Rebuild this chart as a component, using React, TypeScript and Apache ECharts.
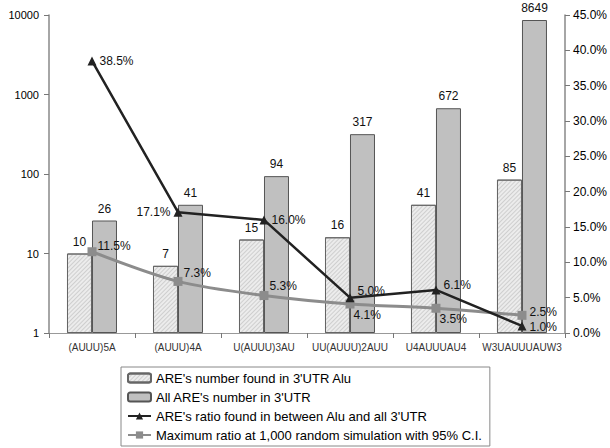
import React, { useEffect, useRef } from "react";
import * as echarts from "echarts";

const categories = ["(AUUU)5A", "(AUUU)4A", "U(AUUU)3AU", "UU(AUUU)2AUU", "U4AUUUAU4", "W3UAUUUAUW3"];
const aluCounts = [10, 7, 15, 16, 41, 85];
const allCounts = [26, 41, 94, 317, 672, 8649];
const ratio = [38.5, 17.1, 16.0, 5.0, 6.1, 1.0];
const simRatio = [11.5, 7.3, 5.3, 4.1, 3.5, 2.5];
const seriesNames = [
  "ARE's number found in 3'UTR Alu",
  "All ARE's number in 3'UTR",
  "ARE's ratio found in between Alu and all 3'UTR",
  "Maximum ratio at 1,000 random simulation with 95% C.I.",
];

const ratioLabelPos: [string, number[]][] = [
  ["right", [0, 0]],
  ["left", [0, 0]],
  ["right", [0, 0]],
  ["right", [0, -7]],
  ["right", [0, -5]],
  ["right", [0, 1]],
];
const simLabelPos: [string, number[]][] = [
  ["right", [-2, -6]],
  ["right", [-2, -8]],
  ["right", [-2, -10]],
  ["right", [-4, 11]],
  ["right", [-4, 11]],
  ["right", [0, -3]],
];

const FONT = "Liberation Sans, Arial, sans-serif";

export default function App() {
  const ref = useRef<HTMLDivElement>(null);
  useEffect(() => {
    const chart = echarts.init(ref.current!, null, { renderer: "svg" });
    const lbl = { fontFamily: FONT, fontSize: 12, color: "#111" };
    chart.setOption({
      animation: false,
      backgroundColor: "#fff",
      textStyle: { fontFamily: FONT },
      grid: { left: 49, right: 45, top: 15, bottom: 115 },
      legend: {
        orient: "vertical",
        left: 121,
        top: 367,
        padding: [4, 8, 4, 6],
        itemGap: 5,
        itemWidth: 23,
        itemHeight: 9,
        borderColor: "#888",
        borderWidth: 1,
        textStyle: { fontFamily: FONT, fontSize: 13, color: "#000", lineHeight: 14 },
        data: seriesNames,
      },
      xAxis: {
        type: "category",
        data: categories,
        axisLine: { lineStyle: { color: "#999", width: 1 } },
        axisTick: { show: true, inside: false, length: 5, lineStyle: { color: "#777" } },
        axisLabel: { fontFamily: FONT, fontSize: 10, color: "#333", margin: 9, interval: 0 },
      },
      yAxis: [
        {
          type: "log",
          logBase: 10,
          min: 1,
          max: 10000,
          axisLine: { show: true, lineStyle: { color: "#888", width: 1.5 } },
          axisTick: { show: true, inside: false, length: 5, lineStyle: { color: "#777" } },
          axisLabel: {
            fontFamily: FONT,
            fontSize: 11,
            color: "#000",
            margin: 10,
            formatter: (v: number) => String(Math.round(v)),
          },
          splitLine: { show: false },
          minorTick: { show: false },
        },
        {
          type: "value",
          min: 0,
          max: 45,
          interval: 5,
          position: "right",
          axisLine: { show: true, lineStyle: { color: "#888", width: 1.5 } },
          axisTick: { show: true, inside: false, length: 5, lineStyle: { color: "#777" } },
          axisLabel: {
            fontFamily: FONT,
            fontSize: 12,
            color: "#000",
            margin: 8,
            formatter: (v: number) => v.toFixed(1) + "%",
          },
          splitLine: { show: false },
        },
      ],
      series: [
        {
          name: seriesNames[0],
          type: "bar",
          yAxisIndex: 0,
          data: aluCounts,
          barWidth: 25,
          barGap: "0%",
          itemStyle: {
            color: "#ececec",
            borderColor: "#666",
            borderWidth: 1,
            decal: {
              symbol: "rect",
              symbolSize: 1,
              dashArrayX: [1, 0],
              dashArrayY: [1, 1.5],
              rotation: -Math.PI / 4,
              color: "rgba(150,150,150,0.35)",
            },
          },
          label: { show: true, position: "top", ...lbl, fontSize: 12, distance: 6 },
        },
        {
          name: seriesNames[1],
          type: "bar",
          yAxisIndex: 0,
          data: allCounts,
          barWidth: 25,
          barGap: "0%",
          itemStyle: { color: "#c0c0c0", borderColor: "#555", borderWidth: 1 },
          label: { show: true, position: "top", ...lbl, fontSize: 12, distance: 6 },
        },
        {
          name: seriesNames[2],
          type: "line",
          yAxisIndex: 1,
          z: 5,
          symbol: "triangle",
          symbolSize: 9,
          lineStyle: { color: "#222", width: 2.5 },
          itemStyle: { color: "#222" },
          data: ratio.map((v, i) => ({
            value: v,
            label: {
              show: true,
              position: ratioLabelPos[i][0],
              offset: ratioLabelPos[i][1],
              formatter: (p: any) => Number(p.value).toFixed(1) + "%",
              ...lbl,
              distance: 3,
            },
          })),
        },
        {
          name: seriesNames[3],
          type: "line",
          yAxisIndex: 1,
          z: 4,
          smooth: 0.3,
          symbol: "rect",
          symbolSize: 9,
          lineStyle: { color: "#8c8c8c", width: 3 },
          itemStyle: { color: "#8c8c8c" },
          data: simRatio.map((v, i) => ({
            value: v,
            label: {
              show: true,
              position: simLabelPos[i][0],
              offset: simLabelPos[i][1],
              formatter: (p: any) => Number(p.value).toFixed(1) + "%",
              ...lbl,
              distance: 3,
            },
          })),
        },
      ],
    });
    return () => chart.dispose();
  }, []);
  return <div ref={ref} style={{ width: 610, height: 448, position: "absolute", left: 0, top: 0 }} />;
}
